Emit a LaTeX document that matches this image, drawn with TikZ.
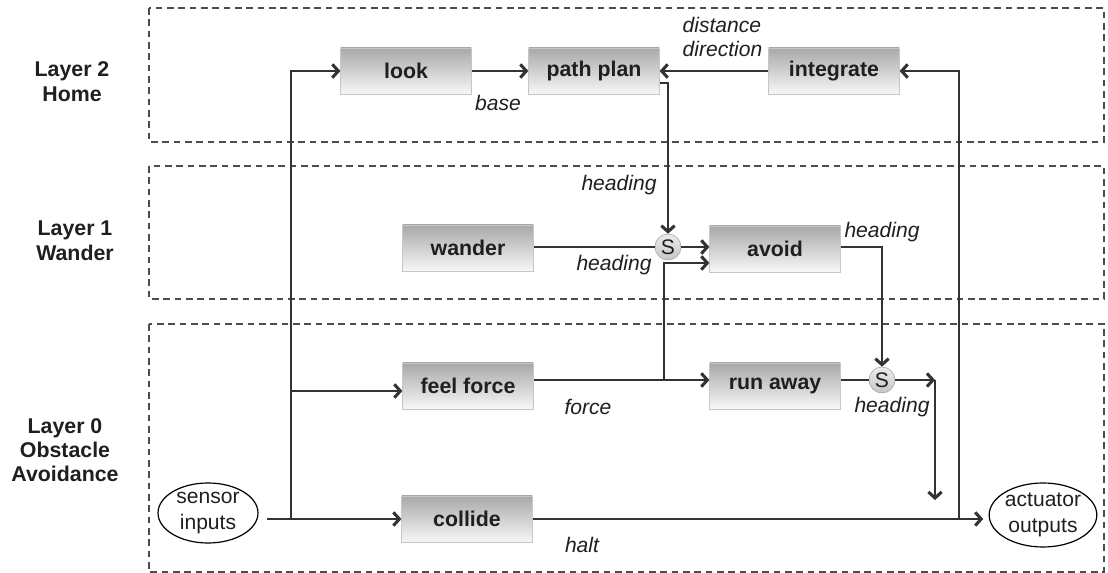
\documentclass[tikz,border=0pt]{standalone}
\usepackage{fontspec}
\setmainfont{Liberation Sans}
\usetikzlibrary{arrows.meta,shapes.geometric,positioning,calc}

\begin{document}
\begin{tikzpicture}
  [x=0.75pt,y=-0.75pt,
  >={Straight Barb[length=4.5pt,width=10pt,line width=2.3pt]},
  every node/.style={font=\fontsize{15.8pt}{18.5pt}\selectfont,text=black!88},
  layer/.style={draw=black!70,line width=1pt,dash pattern=on 5pt off 3.5pt},
  module/.style={draw=gray!45,top color=gray!68,bottom color=gray!6,minimum width=98pt,minimum height=34.5pt,font=\fontsize{16pt}{18.5pt}\selectfont\bfseries},
  supp/.style={circle,draw=gray!75,top color=gray!15,bottom color=gray!45,minimum size=19.5pt,inner sep=0pt},
  io/.style={ellipse,draw,line width=0.9pt,inner sep=0pt,align=center,font=\fontsize{15.8pt}{19pt}\selectfont},
  lbl/.style={font=\fontsize{15.8pt}{18pt}\selectfont\itshape},
  wire/.style={draw=black!80,line width=1pt}
  ]
  \useasboundingbox (0,0) rectangle (1108,573);
  % layers
  \draw[layer] (149,8) rectangle (1104,142);
  \draw[layer] (149,166) rectangle (1104,299);
  \draw[layer] (149,324) rectangle (1104,572);
  \node[font=\fontsize{16pt}{18.75pt}\selectfont\bfseries,align=center] (l2) at (72,82) {Layer 2\\Home};
  \node[font=\fontsize{16pt}{18.75pt}\selectfont\bfseries,align=center] (l1) at (75,241) {Layer 1\\Wander};
  \node[font=\fontsize{16pt}{18pt}\selectfont\bfseries,align=center] (l0) at (65,450) {Layer 0\\Obstacle\\Avoidance};

  \node[module] (look) at (406,71) {look};
  \node[module] (pathplan) at (594,71) {path plan};
  \node[module] (integrate) at (834,71) {integrate};
  \node[module] (wander) at (468,248) {wander};
  \node[module] (avoid) at (775,249) {avoid};
  \node[module] (feelforce) at (468,386) {feel force};
  \node[module] (runaway) at (775,386) {run away};
  \node[module] (collide) at (467,519) {collide};
  \node[supp] (S1) at (668,247) {S};
  \node[supp] (S0) at (882,380) {S};
  \node[io,minimum width=75pt,minimum height=45pt] (sensor) at (208,513) {sensor\\inputs};
  \node[io,minimum width=76.5pt,minimum height=48pt] (actuator) at (1043,515) {actuator\\outputs};

  \coordinate (sj) at (291,519);
  \coordinate (fin) at (291,391);
  \coordinate (ppo) at (668,83);
  \coordinate (fj) at (664,380);
  \coordinate (aj) at (664,263);
  \coordinate (so) at (935,380);
  \coordinate (se) at (935,500);
  \coordinate (oj) at (959,519);

  % sensor side
  \draw[wire,->,shorten <=6.5pt] (sensor.east |- collide) -- (collide.west);
  \draw[wire,->] (sj) |- (look.west);
  \draw[wire,->] (fin) -- (feelforce.west |- fin);
  % layer 2
  \draw[wire,->] (look) -- (pathplan);
  \draw[wire,->] (integrate) -- (pathplan);
  \draw[wire,->] (pathplan.east |- ppo) -- (ppo) -- (S1);
  % layer 1
  \draw[wire] (wander.east |- S1) -- (S1);
  \draw[wire,->] (S1) -- (avoid.west |- S1);
  \draw[wire,->] (fj) -- (aj) -- (avoid.west |- aj);
  \draw[wire,->] (avoid.east |- S1) -| (S0);
  % layer 0
  \draw[wire,->] (feelforce.east |- S0) -- (runaway.west |- S0);
  \draw[wire] (runaway.east |- S0) -- (S0);
  \draw[wire,->] (S0) -- (so);
  \draw[wire,->] (so) -- (se);
  \draw[wire,->,shorten >=4pt] (collide) -- (actuator.west |- collide);
  \draw[wire,->] (oj) |- (integrate.east);

  % labels
  \node[lbl,align=left,anchor=west] (dd) at (678,37) {distance\\direction};
  \node[lbl] (base) at (498,103) {base};
  \node[lbl] (hd1) at (619,185) {heading};
  \node[lbl] (hd2) at (614,265) {heading};
  \node[lbl] (hd3) at (882,232) {heading};
  \node[lbl] (frc) at (588,407) {force};
  \node[lbl] (hd4) at (892,407) {heading};
  \node[lbl] (hlt) at (582,545) {halt};
\end{tikzpicture}
\end{document}
